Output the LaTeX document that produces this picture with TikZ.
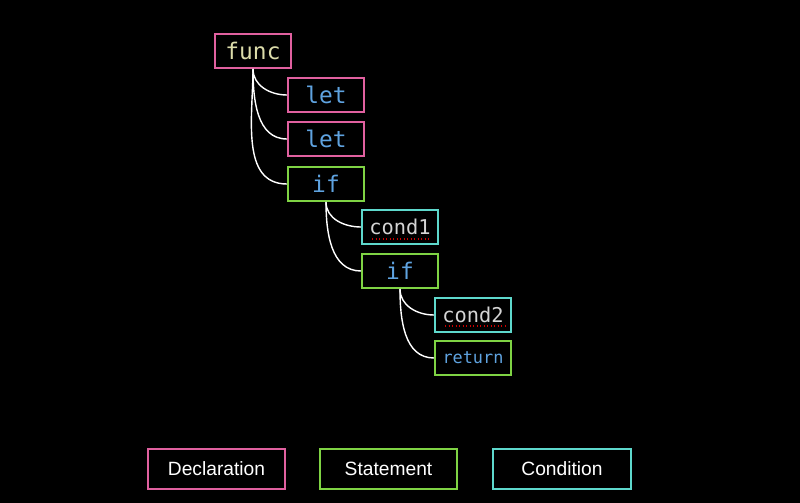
\documentclass[tikz,border=0pt]{standalone}
\usepackage{fontspec}
\setmainfont{Liberation Sans}
\newfontfamily\codefont{DejaVu Sans Mono}
\usepackage{xcolor}
\usetikzlibrary{positioning,calc}

\definecolor{declpink}{HTML}{E0609F}
\definecolor{stmtgreen}{HTML}{7FD344}
\definecolor{condcyan}{HTML}{5ED8CC}
\definecolor{kwblue}{HTML}{5FA3E0}
\definecolor{funcyellow}{HTML}{DCDCAA}
\definecolor{condgray}{HTML}{D4D4D4}

\tikzset{
    box/.style={draw, line width=1.7pt, fill=black, minimum width=64.9pt, minimum height=29pt, inner sep=0pt},
    decl/.style={box, draw=declpink},
    stmt/.style={box, draw=stmtgreen},
    cnd/.style={box, draw=condcyan},
    code/.style={font=\codefont\fontsize{19.5}{20}\selectfont, text=kwblue},
    legend/.style={draw, line width=1.7pt, minimum width=117pt, minimum height=34pt, inner sep=0pt, text=white, font=\fontsize{16.4}{18}\selectfont},
    edge/.style={draw=white, line width=1.2pt},
    spell/.style={draw=red!80!black, line width=1pt, dotted}
}

\begin{document}
\begin{tikzpicture}[x=0.03cm, y=-0.03cm]
        \fill[black] (0,0) rectangle (800,503);
        \useasboundingbox (0,0) rectangle (800,503);

        \node[decl, code, text=funcyellow] (func) at (253,51) {func};
        \node[decl, code] (let1) at (326,95) {let};
        \node[decl, code] (let2) at (326,139) {let};
        \node[stmt, code] (if1) at (326,184) {if};
        \node[cnd, code, text=condgray, font=\codefont\fontsize{17.4}{18}\selectfont] (cond1) at (400,227) {cond1};
        \node[stmt, code] (if2) at (400,271) {if};
        \node[cnd, code, text=condgray, font=\codefont\fontsize{17.4}{18}\selectfont] (cond2) at (473,315) {cond2};
        \node[stmt, code, font=\codefont\fontsize{14.4}{15}\selectfont] (ret) at (473,358) {return};

        \foreach \child in {let1,let2,if1} \draw[edge] (func.south) to[out=-90, in=180] (\child.west);
        \foreach \child in {cond1,if2} \draw[edge] (if1.south) to[out=-90, in=180] (\child.west);
        \foreach \child in {cond2,ret} \draw[edge] (if2.south) to[out=-90, in=180] (\child.west);

        \draw[spell] (372,239) -- (431,239);
        \draw[spell] (445,326) -- (505,326);

        \node[legend, draw=declpink] (declkey) at (216.5,469) {Declaration};
        \node[legend, draw=stmtgreen] (stmtkey) at (388.5,469) {Statement};
        \node[legend, draw=condcyan] (condkey) at (562,469) {Condition};
    \end{tikzpicture}
\end{document}
